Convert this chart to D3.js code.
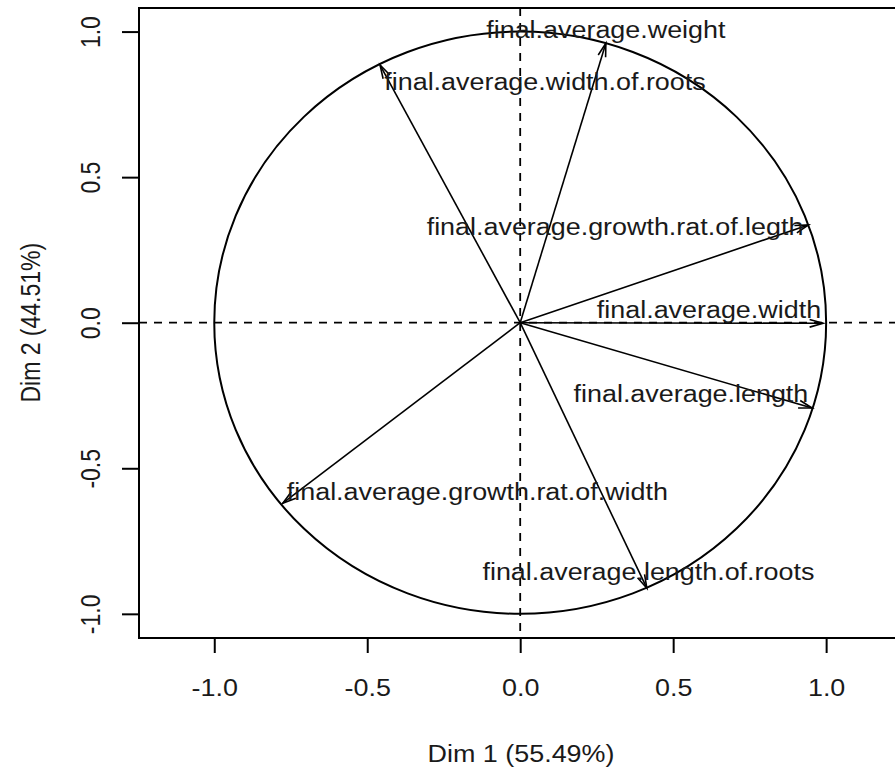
<!DOCTYPE html>
<html>
<head>
<meta charset="utf-8">
<script src="https://cdn.jsdelivr.net/npm/d3@7"></script>
<style>
  html, body { margin: 0; padding: 0; background: #ffffff; }
  svg { display: block; }
  text { font-family: "Liberation Sans", Arial, sans-serif; fill: #1a1a1a; }
</style>
</head>
<body>
<svg id="chart" width="895" height="767"></svg>
<script>
// ---- data ----
const variables = [
  "final.average.weight",
  "final.average.width.of.roots",
  "final.average.growth.rat.of.legth",
  "final.average.width",
  "final.average.length",
  "final.average.growth.rat.of.width",
  "final.average.length.of.roots"
];
const dim1 = [0.280, -0.458, 0.942, 0.990, 0.954, -0.776, 0.414];
const dim2 = [0.960, 0.885, 0.336, -0.002, -0.293, -0.620, -0.912];
const xTicks = [-1.0, -0.5, 0.0, 0.5, 1.0];
const xTickLabels = ["-1.0", "-0.5", "0.0", "0.5", "1.0"];
const yTicks = [-1.0, -0.5, 0.0, 0.5, 1.0];
const yTickLabels = ["-1.0", "-0.5", "0.0", "0.5", "1.0"];
const xTitle = "Dim 1 (55.49%)";
const yTitle = "Dim 2 (44.51%)";

// ---- layout (label anchors in data units: centre x, baseline y) ----
const labelX = [0.280, 0.081, 0.310, 0.617, 0.558, -0.140, 0.419];
const labelY = [0.978, 0.799, 0.301, 0.015, -0.271, -0.609, -0.884];

const stretch = 1.17;   // horizontal text stretch seen in the reference
const fontSize = 23;

const svg = d3.select("#chart");
svg.append("rect").attr("width", 895).attr("height", 767).attr("fill", "#fff");

const x = d3.scaleLinear().domain([-1.246, 1.246]).range([139, 901.4]);
const y = d3.scaleLinear().domain([-1.083, 1.081]).range([638, 8]);

const plot = svg.append("g");

// dashed reference lines
plot.append("line")
  .attr("x1", x.range()[0]).attr("x2", x.range()[1])
  .attr("y1", y(0)).attr("y2", y(0))
  .attr("stroke", "#000").attr("stroke-width", 1.8).attr("stroke-dasharray", "8,7");
plot.append("line")
  .attr("x1", x(0)).attr("x2", x(0))
  .attr("y1", y.range()[1]).attr("y2", y.range()[0])
  .attr("stroke", "#000").attr("stroke-width", 1.8).attr("stroke-dasharray", "8,7");

// unit circle
plot.append("ellipse")
  .attr("cx", x(0)).attr("cy", y(0))
  .attr("rx", x(1) - x(0)).attr("ry", y(0) - y(1))
  .attr("fill", "none").attr("stroke", "#000").attr("stroke-width", 2);

// arrows
const headLen = 14, headAng = 16 * Math.PI / 180;
variables.forEach((v, i) => {
  const x0 = x(0), y0 = y(0), x1 = x(dim1[i]), y1 = y(dim2[i]);
  plot.append("line")
    .attr("x1", x0).attr("y1", y0).attr("x2", x1).attr("y2", y1)
    .attr("stroke", "#000").attr("stroke-width", 1.6);
  const a = Math.atan2(y1 - y0, x1 - x0);
  const p = d3.path();
  p.moveTo(x1 - headLen * Math.cos(a - headAng), y1 - headLen * Math.sin(a - headAng));
  p.lineTo(x1, y1);
  p.lineTo(x1 - headLen * Math.cos(a + headAng), y1 - headLen * Math.sin(a + headAng));
  plot.append("path").attr("d", p.toString())
    .attr("fill", "none").attr("stroke", "#000").attr("stroke-width", 1.6);
});

// variable labels
variables.forEach((v, i) => {
  plot.append("text")
    .attr("transform", `translate(${x(labelX[i])},${y(labelY[i])}) scale(${stretch},1)`)
    .attr("text-anchor", "middle")
    .attr("font-size", fontSize)
    .text(v);
});

// box
svg.append("rect")
  .attr("x", x.range()[0]).attr("y", y.range()[1])
  .attr("width", x.range()[1] - x.range()[0])
  .attr("height", y.range()[0] - y.range()[1])
  .attr("fill", "none").attr("stroke", "#000").attr("stroke-width", 2);

// axes
const xAxis = svg.append("g")
  .attr("transform", `translate(0,${y.range()[0]})`)
  .call(d3.axisBottom(x).tickValues(xTicks).tickSize(15).tickSizeOuter(0)
    .tickFormat((d, i) => xTickLabels[i]));
xAxis.select(".domain").remove();
xAxis.selectAll("line").attr("stroke", "#000").attr("stroke-width", 2);
xAxis.selectAll("text")
  .attr("y", null).attr("dy", null)
  .attr("transform", `translate(0,57.7) scale(${stretch},1)`)
  .attr("font-size", fontSize).attr("font-family", null)
  .attr("fill", "#1a1a1a");

const yAxis = svg.append("g")
  .attr("transform", `translate(${x.range()[0]},0)`)
  .call(d3.axisLeft(y).tickValues(yTicks).tickSize(17).tickSizeOuter(0)
    .tickFormat((d, i) => yTickLabels[i]));
yAxis.select(".domain").remove();
yAxis.selectAll("line").attr("stroke", "#000").attr("stroke-width", 2);
yAxis.selectAll("text")
  .attr("x", null).attr("dy", null)
  .attr("text-anchor", "middle")
  .attr("transform", `translate(-39,0) scale(${stretch},1) rotate(-90)`)
  .attr("font-size", fontSize).attr("font-family", null)
  .attr("fill", "#1a1a1a");
svg.selectAll(".tick text").style("font-family", "'Liberation Sans', Arial, sans-serif");

// axis titles
svg.append("text")
  .attr("transform", `translate(521,761.5) scale(${stretch},1)`)
  .attr("text-anchor", "middle").attr("font-size", fontSize)
  .text(xTitle);
svg.append("text")
  .attr("transform", `translate(39.5,${y(0)}) scale(${stretch},1) rotate(-90)`)
  .attr("text-anchor", "middle").attr("font-size", fontSize)
  .text(yTitle);
</script>
</body>
</html>
